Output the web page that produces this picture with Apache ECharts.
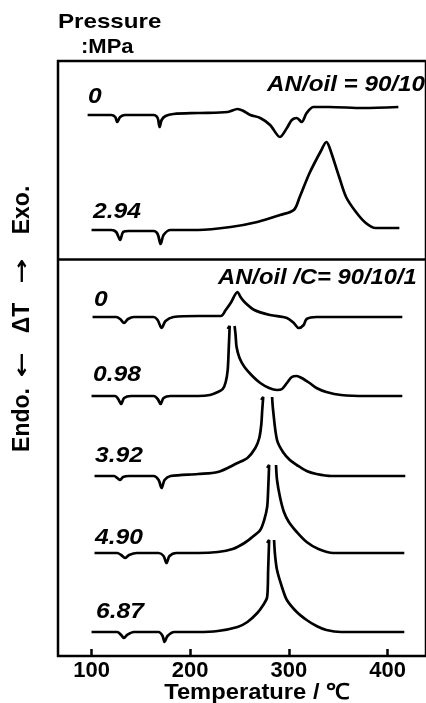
<!DOCTYPE html>
<html>
<head>
<meta charset="utf-8">
<script src="https://cdn.jsdelivr.net/npm/echarts@6/dist/echarts.min.js"></script>
<style>
html,body{margin:0;padding:0;background:#fff;}
#chart{width:426px;height:703px;}
</style>
</head>
<body>
<div id="chart"></div>
<script>
// Tick labels of the temperature axis (°C)
const tickValues = [100, 200, 300, 400];
// Pressure (MPa) of each trace, top to bottom
const pressureLabels = ['0', '2.94', '0', '0.98', '3.92', '4.90', '6.87'];
// Vertical offset (arbitrary ΔT units) of each trace's baseline
const baseOffsets = [541, 426, 339, 260, 180, 103, 24];

// AN/oil = 90/10, 0 MPa  [T (°C), ΔT]
const oil_0 = [[96,0],[120,0],[124,-2],[126,-7],[129,-2],[134,0],[163,0],[167,-3],[169,-12],[171,-5],[175,-1],[183,1],[208,2],[238,3],[248,6],[254,4],[261,0],[271,-3],[281,-10],[291,-22],[298,-13],[303,-5],[308,-3],[313,-7],[318,2],[325,8],[341,8],[375,7],[411,8]];
// AN/oil = 90/10, 2.94 MPa
const oil_294 = [[100,0],[120,0],[125,-2],[129,-10],[132,-2],[138,-1],[163,-1],[167,-4],[170,-14],[173,-5],[180,0],[208,0],[241,3],[268,8],[291,15],[305,20],[311,33],[321,57],[333,80],[338,88],[341,83],[351,53],[358,33],[368,18],[378,7],[388,2],[412,2]];
// AN/oil/C = 90/10/1, 0 MPa
const anc_0 = [[101,0],[125,0],[129,-2],[133,-6],[137,-2],[143,0],[163,0],[167,-3],[171,-11],[175,-4],[183,0],[208,1],[231,1],[236,7],[241,14],[248,25],[251,20],[255,15],[265,7],[281,2],[298,-1],[305,-6],[310,-11],[315,-8],[318,-2],[328,0],[415,0]];
// 0.98 MPa (peak off scale: rising and falling branches)
const anc_098_rise = [[100,0],[124,0],[127,-3],[130,-8],[133,-2],[140,0],[163,0],[167,-3],[170,-8],[173,-2],[180,0],[208,0],[220,1],[228,4],[233,7],[236,14],[238,26],[239,46],[240,70],[238,67]];
const anc_098_fall = [[245,70],[246,61],[247,49],[250,38],[255,29],[263,20],[271,13],[280,8],[288,6],[293,7],[298,13],[303,19],[308,20],[313,18],[321,13],[328,8],[338,4],[353,1],[378,0],[415,0]];
// 3.92 MPa
const anc_392_rise = [[103,0],[123,0],[126,-2],[129,-4],[132,-1],[138,0],[163,0],[168,-4],[171,-12],[174,-4],[180,0],[208,2],[228,4],[248,13],[258,18],[266,28],[270,38],[272,51],[273,66],[274,79],[272,76]];
const anc_392_fall = [[283,79],[284,66],[288,36],[294,24],[301,16],[308,11],[318,5],[328,2],[343,0],[418,0]];
// 4.90 MPa
const anc_490_rise = [[103,0],[126,0],[130,-2],[134,-5],[138,-2],[146,0],[168,0],[173,-3],[176,-10],[179,-3],[186,0],[208,0],[228,1],[243,4],[255,10],[263,16],[271,23],[275,33],[278,46],[279,63],[280,88],[278,85]];
const anc_490_fall = [[287,88],[288,73],[291,56],[295,41],[300,31],[308,21],[318,11],[330,4],[345,0],[417,0]];
// 6.87 MPa
const anc_687_rise = [[100,0],[126,0],[130,-3],[133,-6],[136,-3],[143,0],[168,0],[172,-4],[174,-10],[177,-4],[184,0],[208,0],[228,1],[248,5],[258,10],[268,19],[274,27],[278,35],[279,62],[280,92],[278,89]];
const anc_687_fall = [[285,92],[286,77],[288,62],[293,45],[298,32],[308,20],[318,12],[328,6],[338,2],[353,0],[417,0]];

const traces = [
  [oil_0], [oil_294], [anc_0],
  [anc_098_rise, anc_098_fall],
  [anc_392_rise, anc_392_fall],
  [anc_490_rise, anc_490_fall],
  [anc_687_rise, anc_687_fall]
];
const panelDivider = 397;

const FONT = '"Liberation Sans", Arial, Helvetica, sans-serif';
const chart = echarts.init(document.getElementById('chart'));

const series = [];
traces.forEach((segs, i) => {
  segs.forEach(seg => {
    series.push({
      type: 'line',
      data: seg.map(p => [p[0], p[1] + baseOffsets[i]]),
      showSymbol: false,
      smooth: 0.3,
      silent: true,
      lineStyle: { color: '#000', width: 2.7 }
    });
  });
});
series[0].markLine = {
  silent: true,
  symbol: 'none',
  label: { show: false },
  lineStyle: { color: '#000', width: 2.5, type: 'solid' },
  data: [{ yAxis: panelDivider }]
};

function txt(x, y, text, opts) {
  opts = opts || {};
  return {
    type: 'text',
    x: x, y: y,
    rotation: opts.rotation || 0,
    scaleX: opts.scaleX || 1,
    style: {
      text: text,
      fill: '#000',
      font: (opts.italic ? 'italic ' : '') + 'bold ' + (opts.size || 21) + 'px ' + (opts.family || FONT),
      textAlign: opts.align || 'left',
      textVerticalAlign: 'middle'
    }
  };
}

const ARROW_FONT = '"DejaVu Sans", sans-serif';
const labelPos = [[88, 97], [93, 212], [94, 300], [93, 375], [95, 456], [95, 538], [96, 612]];
const graphics = [
  txt(58, 22, 'Pressure', { size: 21, scaleX: 1.15 }),
  txt(81, 47, ':MPa', { size: 20, scaleX: 1.1 }),
  txt(425, 85, 'AN/oil = 90/10', { size: 22, italic: true, align: 'right', scaleX: 1.1 }),
  txt(218, 278, 'AN/oil /C= 90/10/1', { size: 22, italic: true, scaleX: 1.08 }),
  txt(257, 693, 'Temperature / ℃', { size: 22, align: 'center', scaleX: 1.08 }),
  txt(23, 210, 'Exo.', { size: 23, align: 'center', rotation: Math.PI / 2 }),
  txt(23, 271, '→', { size: 20, align: 'center', rotation: Math.PI / 2, scaleX: 1.5, family: ARROW_FONT }),
  txt(23, 318, 'ΔT', { size: 23, align: 'center', rotation: Math.PI / 2 }),
  txt(23, 365, '←', { size: 20, align: 'center', rotation: Math.PI / 2, scaleX: 1.5, family: ARROW_FONT }),
  txt(23, 420, 'Endo.', { size: 23, align: 'center', rotation: Math.PI / 2 })
];
pressureLabels.forEach((t, i) => {
  graphics.push(txt(labelPos[i][0], labelPos[i][1], t, { size: 22, italic: true, scaleX: 1.12 }));
});

chart.setOption({
  animation: false,
  backgroundColor: '#fff',
  grid: {
    left: 58, right: -5, top: 61, bottom: 47,
    show: true, borderColor: '#000', borderWidth: 2.5, backgroundColor: 'transparent'
  },
  xAxis: {
    type: 'value',
    min: 66, max: 439,
    axisLine: { show: false },
    splitLine: { show: false },
    axisTick: {
      show: true, inside: true, length: 7, customValues: tickValues,
      lineStyle: { color: '#000', width: 2.5 }
    },
    axisLabel: {
      show: true, customValues: tickValues, margin: 4,
      color: '#000', fontSize: 22, fontWeight: 'bold', fontFamily: FONT
    }
  },
  yAxis: {
    type: 'value', min: 0, max: 595,
    axisLine: { show: false }, axisTick: { show: false },
    axisLabel: { show: false }, splitLine: { show: false }
  },
  series: series,
  graphic: graphics
});
</script>
</body>
</html>
